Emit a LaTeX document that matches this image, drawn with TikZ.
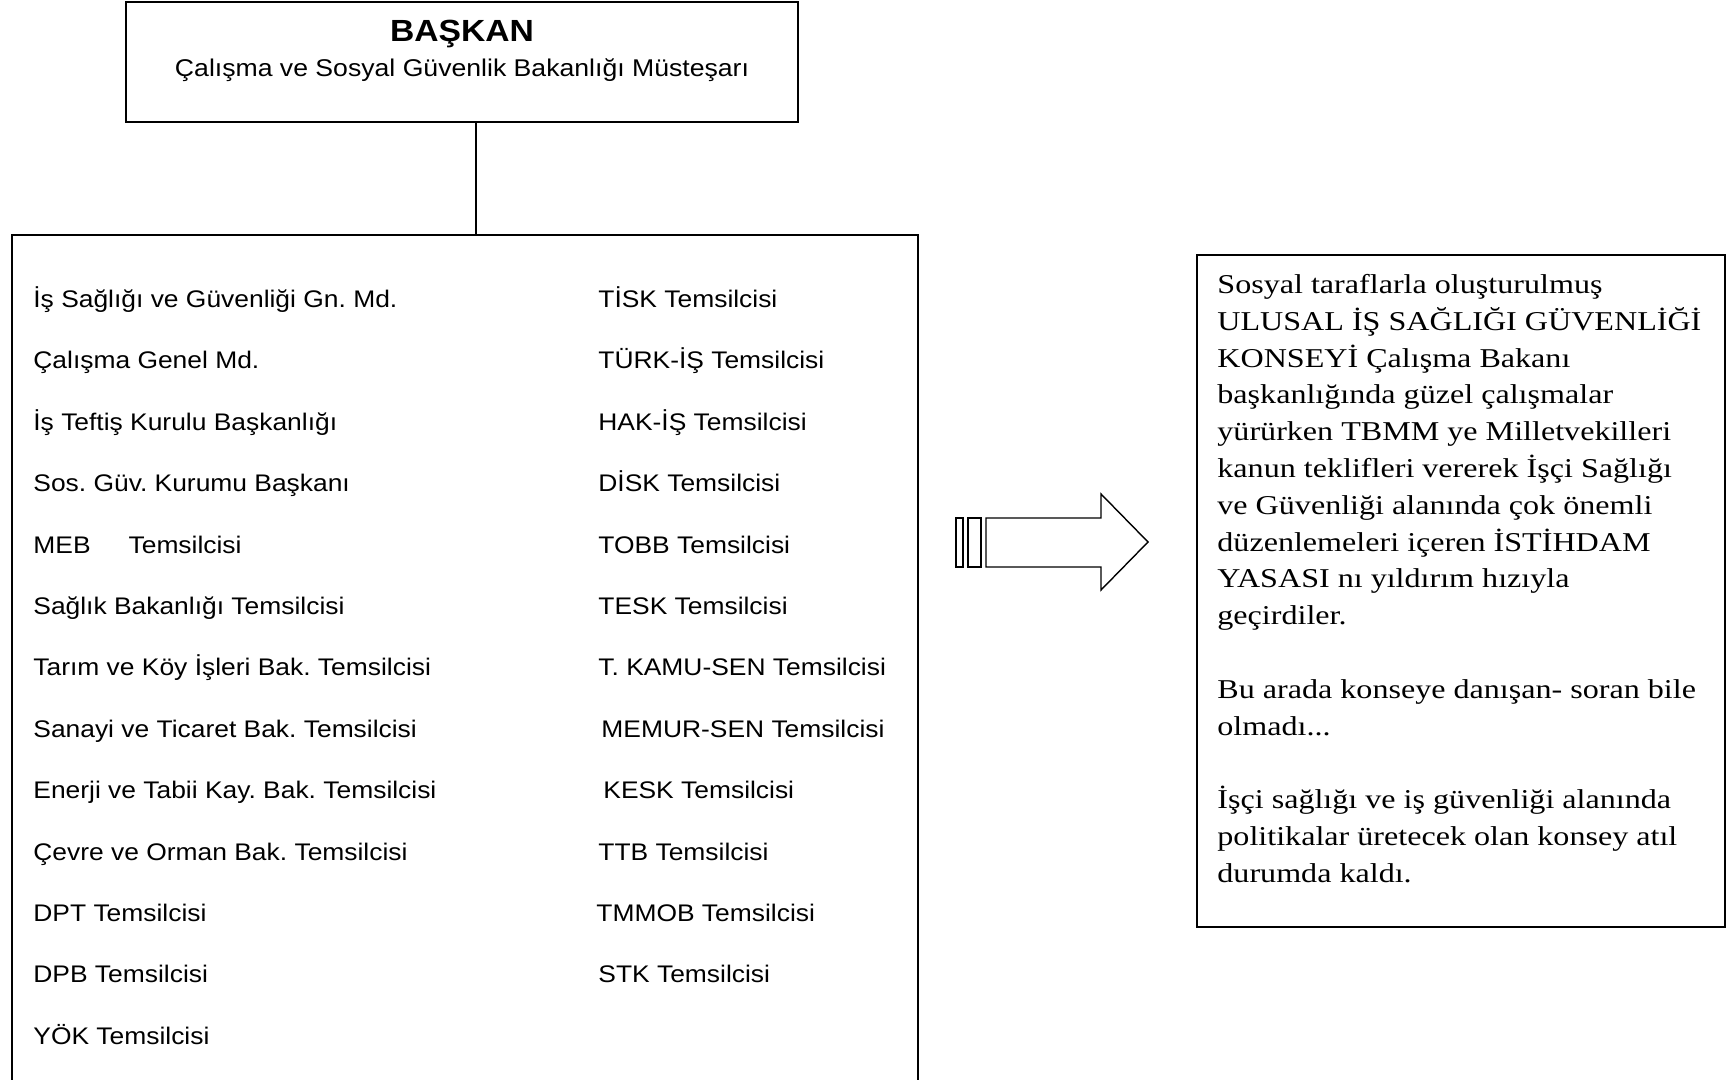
\documentclass[tikz,border=0pt]{standalone}
\usepackage{fontspec}
\setmainfont[FakeStretch=1.18]{Liberation Serif}
\setsansfont[FakeStretch=1.1]{Liberation Sans}
\usetikzlibrary{positioning}
\frenchspacing

\begin{document}
\begin{tikzpicture}[x=0.5pt, y=-0.5pt,
    box/.style={draw, line width=0.9pt, inner sep=0pt},
    item/.style={anchor=base west, inner sep=0pt, font=\sffamily\fontsize{12}{14}\selectfont},
    hollow/.style={draw, line width=0.7pt, fill=white}
]
    \useasboundingbox (0,0) rectangle (1728,1080);

    % Baskan
    \node[box, minimum width=336pt, minimum height=60pt] (baskan) at (462,62) {};
    \node[anchor=base, inner sep=0pt, font=\sffamily\bfseries\fontsize{15.3}{17}\selectfont] (unvan) at (462,42) {BAŞKAN};
    \node[anchor=base, inner sep=0pt, font=\sffamily\fontsize{12.1}{14}\selectfont] (mustesar) at (462,77) {Çalışma ve Sosyal Güvenlik Bakanlığı Müsteşarı};

    % Konsey uyeleri
    \coordinate (kurul) at (476,235);
    \draw[line width=0.9pt] (baskan.south -| kurul) -- (kurul);
    \draw[line width=0.9pt] (12,1080) -- (12,235) -- (918,235) -- (918,1080);

    \foreach \txt [count=\i from 0] in {İş Sağlığı ve Güvenliği Gn. Md., Çalışma Genel Md., İş Teftiş Kurulu Başkanlığı, Sos. Güv. Kurumu Başkanı, MEB\hspace{19pt}Temsilcisi, Sağlık Bakanlığı Temsilcisi, Tarım ve Köy İşleri Bak. Temsilcisi, Sanayi ve Ticaret Bak. Temsilcisi, Enerji ve Tabii Kay. Bak. Temsilcisi, Çevre ve Orman Bak. Temsilcisi, DPT Temsilcisi, DPB Temsilcisi, YÖK Temsilcisi}
        \node[item] (sol\i) at (33,307.5+61.4*\i) {\txt};

    \foreach \dx/\txt [count=\i from 0] in {598/TİSK Temsilcisi, 598/TÜRK-İŞ Temsilcisi, 598/HAK-İŞ Temsilcisi, 598/DİSK Temsilcisi, 598/TOBB Temsilcisi, 598/TESK Temsilcisi, 598/T. KAMU-SEN Temsilcisi, 601/MEMUR-SEN Temsilcisi, 603/KESK Temsilcisi, 598/TTB Temsilcisi, 596/TMMOB Temsilcisi, 598/STK Temsilcisi}
        \node[item] (sag\i) at (\dx,307.5+61.4*\i) {\txt};

    % Ok
    \draw[hollow] (956,518) rectangle (963,567);
    \draw[hollow] (968,518) rectangle (981,567);
    \draw[hollow] (986,518) -- (1101,518) -- (1101,494) -- (1148,542) -- (1101,590) -- (1101,567) -- (986,567) -- cycle;

    % Aciklama
    \node[box, minimum width=264pt, minimum height=336pt] (konsey) at (1461,591) {};
    \node[anchor=north west, inner sep=0pt, align=left, font=\fontsize{13.6}{18.4}\selectfont] (metin) at (1217,274) {Sosyal taraflarla oluşturulmuş\\
        ULUSAL İŞ SAĞLIĞI GÜVENLİĞİ\\
        KONSEYİ Çalışma Bakanı\\
        başkanlığında güzel çalışmalar\\
        yürürken TBMM ye Milletvekilleri\\
        kanun teklifleri vererek İşçi Sağlığı\\
        ve Güvenliği alanında çok önemli\\
        düzenlemeleri içeren İSTİHDAM\\
        YASASI nı yıldırım hızıyla\\
        geçirdiler.\\[18.4pt]
        Bu arada konseye danışan- soran bile\\
        olmadı...\\[18.4pt]
        İşçi sağlığı ve iş güvenliği alanında\\
        politikalar üretecek olan konsey atıl\\
        durumda kaldı.};
\end{tikzpicture}
\end{document}
